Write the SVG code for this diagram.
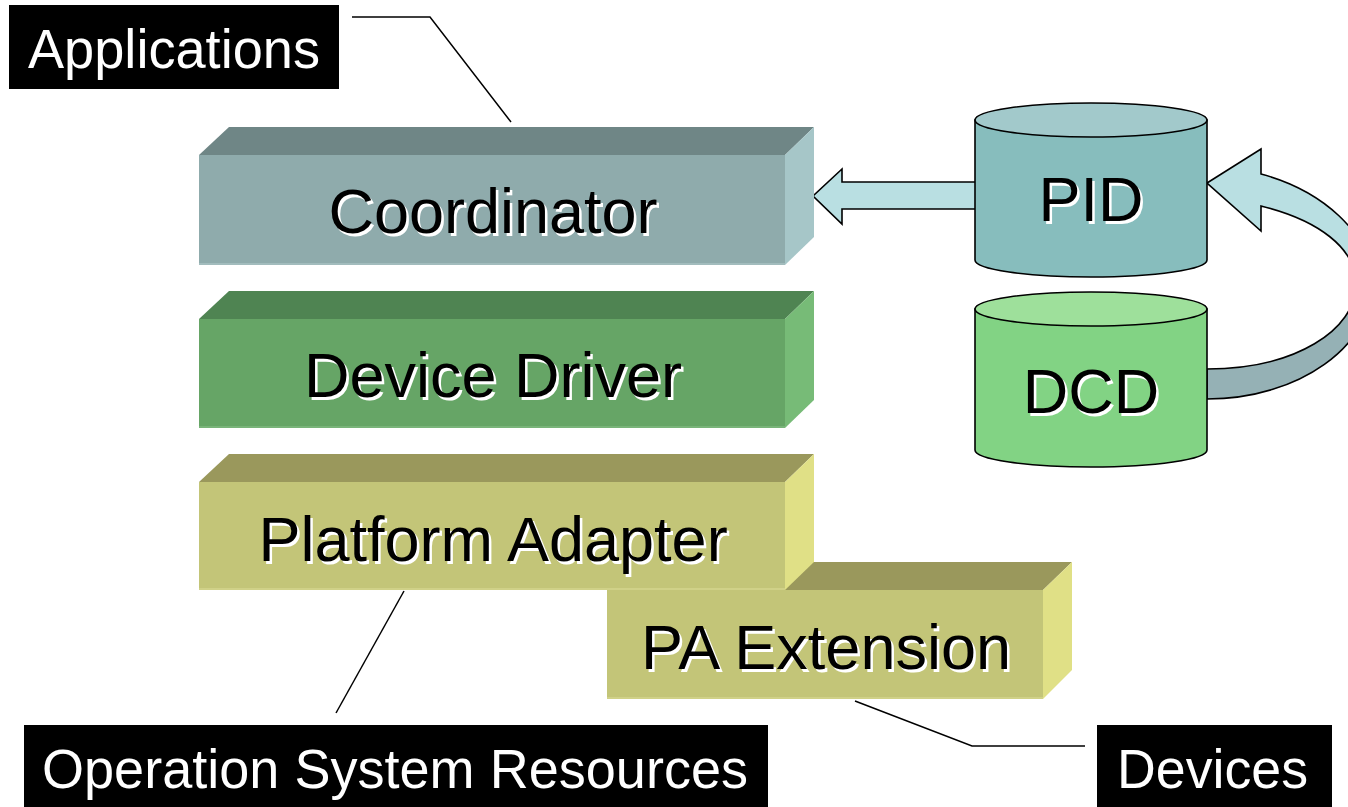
<svg xmlns="http://www.w3.org/2000/svg" width="1348" height="807" viewBox="0 0 1348 807">
  <style>
    .lbl { font-family: "Liberation Sans", Arial, sans-serif; font-size: 63px; text-anchor: middle; }
    .ink { fill: #000; }
    .glow { fill: #fff; }
    .tag { font-family: "Liberation Sans", Arial, sans-serif; font-size: 56px; fill: #fff; }
    .tagbox { fill: #000; }
    .lead { fill: none; stroke: #000; stroke-width: 1.5; }
    .cyl { stroke: #000; stroke-width: 1.6; }
    .arrow { stroke: #000; stroke-width: 1.6; stroke-linejoin: miter; }
  </style>

  <!-- connectors: block arrows and leader lines -->
  <g id="connectors">
    <!-- PID to Coordinator -->
    <polygon class="arrow" fill="#b9dfe2" points="976,182 842,182 842,169 813,196 842,224 842,209 976,209"/>
    <!-- DCD curving up into PID -->
    <path class="arrow" fill="#95b1b5" d="M1372,284 C1372,345 1300,399 1207,399 L1207,369 C1295,369 1356,330 1356,284 Z"/>
    <path class="arrow" fill="#b9dfe2" d="M1207,183 L1261,149 L1261,174 C1320,190 1372,232 1372,284 L1356,284 C1356,248 1318,220 1261,206 L1261,231 Z"/>
    <!-- leader lines -->
    <polyline class="lead" points="352,17 430,17 511,122"/>
    <line class="lead" x1="404" y1="591" x2="336" y2="713"/>
    <polyline class="lead" points="855,701 972,746 1085,746"/>
  </g>

  <!-- layered blocks -->
  <g id="coordinator">
    <polygon fill="#6f8686" points="199,155 229,127 814,127 785,155"/>
    <polygon fill="#a6c6c8" points="785,155 814,127 814,237 785,265"/>
    <rect x="199" y="155" width="586" height="110" fill="#8fabac"/>
    <line x1="199" y1="264" x2="785" y2="264" stroke="#a2bcbd" stroke-width="2"/>
    <text class="lbl glow" x="495.5" y="235.5">Coordinator</text>
    <text class="lbl ink" x="493" y="233">Coordinator</text>
  </g>

  <g id="device-driver">
    <polygon fill="#4f8452" points="199,319 229,291 814,291 785,319"/>
    <polygon fill="#77bb77" points="785,319 814,291 814,400 785,428"/>
    <rect x="199" y="319" width="586" height="109" fill="#66a566"/>
    <line x1="199" y1="427" x2="785" y2="427" stroke="#79b479" stroke-width="2"/>
    <text class="lbl glow" x="495.5" y="399.5">Device Driver</text>
    <text class="lbl ink" x="493" y="397">Device Driver</text>
  </g>

  <g id="pa-extension">
    <polygon fill="#9a985c" points="607,590 637,562 1072,562 1043,590"/>
    <polygon fill="#e0e086" points="1043,590 1072,562 1072,670 1043,699"/>
    <rect x="607" y="590" width="436" height="109" fill="#c3c578"/>
    <line x1="607" y1="698" x2="1043" y2="698" stroke="#d0d188" stroke-width="2"/>
    <text class="lbl glow" x="828.5" y="671.5">PA Extension</text>
    <text class="lbl ink" x="826" y="669">PA Extension</text>
  </g>

  <g id="platform-adapter">
    <polygon fill="#9a985c" points="199,482 229,454 814,454 785,482"/>
    <polygon fill="#e0e086" points="785,482 814,454 814,562 785,590"/>
    <rect x="199" y="482" width="586" height="108" fill="#c3c578"/>
    <line x1="199" y1="589" x2="785" y2="589" stroke="#d0d188" stroke-width="2"/>
    <text class="lbl glow" x="495.5" y="563.5">Platform Adapter</text>
    <text class="lbl ink" x="493" y="561">Platform Adapter</text>
  </g>

  <!-- data stores -->
  <g id="pid">
    <path class="cyl" fill="#87bdbd" d="M975,120 V260 A116,17 0 0 0 1207,260 V120 Z"/>
    <ellipse class="cyl" cx="1091" cy="120" rx="116" ry="17" fill="#a2c9cb"/>
    <text class="lbl glow" x="1093.5" y="223.5">PID</text>
    <text class="lbl ink" x="1091" y="221">PID</text>
  </g>

  <g id="dcd">
    <path class="cyl" fill="#82d384" d="M975,309 V450 A116,17 0 0 0 1207,450 V309 Z"/>
    <ellipse class="cyl" cx="1091" cy="309" rx="116" ry="17" fill="#9ee09b"/>
    <text class="lbl glow" x="1093.5" y="415.5">DCD</text>
    <text class="lbl ink" x="1091" y="413">DCD</text>
  </g>

  <!-- callout tags -->
  <g id="applications">
    <rect class="tagbox" x="9" y="5" width="330" height="84"/>
    <text class="tag" x="28" y="68" textLength="292" lengthAdjust="spacingAndGlyphs">Applications</text>
  </g>

  <g id="os-resources">
    <rect class="tagbox" x="24" y="725" width="744" height="82"/>
    <text class="tag" x="42" y="788" textLength="706" lengthAdjust="spacingAndGlyphs">Operation System Resources</text>
  </g>

  <g id="devices">
    <rect class="tagbox" x="1097" y="725" width="235" height="82"/>
    <text class="tag" x="1117" y="788" textLength="191" lengthAdjust="spacingAndGlyphs">Devices</text>
  </g>
</svg>
